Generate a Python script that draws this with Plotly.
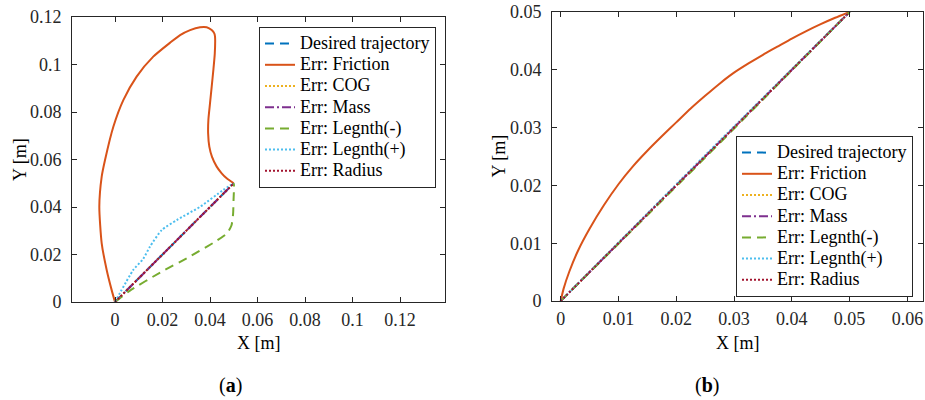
import plotly.graph_objects as go

# ---------------- data: panel (a) ----------------
a_desired_x = [0.0, 0.05]
a_desired_y = [0.0, 0.05]
a_friction_x = [0.0, -0.0014, -0.0035, -0.0056, -0.0066, -0.0056, -0.0042, -0.0007, 0.0035, 0.0091,
                0.0161, 0.0232, 0.0274, 0.0316, 0.0358, 0.0386, 0.0407, 0.0418, 0.0421, 0.0420,
                0.0414, 0.0407, 0.0400, 0.0393, 0.0392, 0.0397, 0.0408, 0.0428, 0.0449, 0.0470,
                0.0500]
a_friction_y = [0.0, 0.0050, 0.0135, 0.0247, 0.0401, 0.0528, 0.0598, 0.0738, 0.0850, 0.0949,
                0.1033, 0.1092, 0.1124, 0.1145, 0.1157, 0.1157, 0.1145, 0.1131, 0.1117, 0.1047,
                0.0977, 0.0907, 0.0837, 0.0766, 0.0710, 0.0654, 0.0612, 0.0570, 0.0542, 0.0521,
                0.0500]
a_cog_x = [0.0, 0.05]
a_cog_y = [0.0, 0.05]
a_mass_x = [0.0, 0.05]
a_mass_y = [0.0, 0.05]
a_lminus_x = [0.0, 0.0063, 0.0190, 0.0316, 0.0428, 0.0472, 0.0490, 0.0497, 0.0499, 0.0501, 0.0500]
a_lminus_y = [0.0, 0.0048, 0.0124, 0.0192, 0.0258, 0.0290, 0.0322, 0.0370, 0.0430, 0.0485, 0.0500]
a_lplus_x = [0.0, 0.0077, 0.0119, 0.0147, 0.0197, 0.0260, 0.0358, 0.0456, 0.0500]
a_lplus_y = [0.0, 0.0135, 0.0182, 0.0233, 0.0303, 0.0345, 0.0401, 0.0472, 0.0500]
a_radius_x = [0.0, 0.05]
a_radius_y = [0.0, 0.05]

# ---------------- data: panel (b) ----------------
b_desired_x = [0.0, 0.05]
b_desired_y = [0.0, 0.05]
b_friction_x = [0.0, 0.0005, 0.0015, 0.0030, 0.0050, 0.0075, 0.0100, 0.0125, 0.0150, 0.0175,
                0.0200, 0.0225, 0.0250, 0.0275, 0.0300, 0.0325, 0.0350, 0.0375, 0.0400, 0.0425,
                0.0450, 0.0475, 0.0500]
b_friction_y = [0.0, 0.0021, 0.0051, 0.0087, 0.0125, 0.0166, 0.0202, 0.0233, 0.0260, 0.0285,
                0.0309, 0.0333, 0.0355, 0.0376, 0.0395, 0.0411, 0.0426, 0.0440, 0.0454, 0.0467,
                0.0479, 0.0490, 0.0500]
b_cog_x = [0.0, 0.05]
b_cog_y = [0.0, 0.05]
b_mass_x = [0.0, 0.05]
b_mass_y = [0.0, 0.05]
b_lminus_x = [0.0, 0.025, 0.05]
b_lminus_y = [0.0, 0.0248, 0.05]
b_lplus_x = [0.0, 0.025, 0.05]
b_lplus_y = [0.0, 0.0252, 0.05]
b_radius_x = [0.0, 0.05]
b_radius_y = [0.0, 0.05]

names = ["Desired trajectory", "Err: Friction", "Err: COG", "Err: Mass",
         "Err: Legnth(-)", "Err: Legnth(+)", "Err: Radius"]
colors = ["#0072BD", "#D95319", "#EDB120", "#7E2F8E", "#77AC30", "#4DBEEE", "#A2142F"]
dashes = ["9px,6px", "solid", "2px,2px", "9px,3px,2px,3px", "9px,6px", "2px,2px", "2px,2px"]

panel_a = [(a_desired_x, a_desired_y), (a_friction_x, a_friction_y), (a_cog_x, a_cog_y),
           (a_mass_x, a_mass_y), (a_lminus_x, a_lminus_y), (a_lplus_x, a_lplus_y),
           (a_radius_x, a_radius_y)]
panel_b = [(b_desired_x, b_desired_y), (b_friction_x, b_friction_y), (b_cog_x, b_cog_y),
           (b_mass_x, b_mass_y), (b_lminus_x, b_lminus_y), (b_lplus_x, b_lplus_y),
           (b_radius_x, b_radius_y)]

W, H = 925, 400
FONT = "Liberation Serif, Times New Roman, serif"
AX = "#262626"

def label(n):
    return '<span style="font-size:18px">' + n + '</span>'

fig = go.Figure()
for i, (xs, ys) in enumerate(panel_a):
    fig.add_trace(go.Scatter(x=xs, y=ys, mode="lines", name=label(names[i]),
                             line=dict(color=colors[i], width=2, dash=dashes[i], shape="spline", smoothing=0.6),
                             xaxis="x", yaxis="y", legend="legend"))
for i, (xs, ys) in enumerate(panel_b):
    fig.add_trace(go.Scatter(x=xs, y=ys, mode="lines", name=label(names[i]),
                             line=dict(color=colors[i], width=2, dash=dashes[i], shape="spline", smoothing=0.6),
                             xaxis="x2", yaxis="y2", legend="legend2"))

def px_x(p):
    return p / W

def px_y(p):
    return 1 - p / H

axis_common = dict(showline=True, linecolor=AX, linewidth=1, mirror="ticks",
                   ticks="inside", ticklen=5, tickcolor=AX, tickwidth=1,
                   showgrid=False, zeroline=False, automargin=False,
                   ticklabeloverflow="allow",
                   tickfont=dict(family=FONT, size=18, color=AX))

legend_common = dict(xanchor="left", yanchor="top", bgcolor="white", bordercolor=AX, borderwidth=1,
                     font=dict(family=FONT, size=14, color="black"), itemwidth=30,
                     tracegroupgap=0)

fig.update_layout(
    width=W, height=H,
    margin=dict(l=0, r=0, t=0, b=0, autoexpand=False),
    paper_bgcolor="white", plot_bgcolor="white",
    font=dict(family=FONT, size=18, color=AX),
    xaxis=dict(domain=[px_x(72), px_x(445)], range=[-0.0181, 0.1389], dtick=0.02, tick0=0,
               anchor="y", ticklabelstandoff=1, **axis_common),
    yaxis=dict(domain=[px_y(302), px_y(17)], range=[0, 0.12], dtick=0.02, tick0=0,
               anchor="x", ticklabelstandoff=6, **axis_common),
    xaxis2=dict(domain=[px_x(552), px_x(923)], range=[-0.0015, 0.0627], dtick=0.01, tick0=0,
                anchor="y2", ticklabelstandoff=1, **axis_common),
    yaxis2=dict(domain=[px_y(301), px_y(12)], range=[0, 0.05], dtick=0.01, tick0=0,
                anchor="x2", ticklabelstandoff=6, **axis_common),
    legend=dict(x=px_x(259), y=px_y(27), **legend_common),
    legend2=dict(x=px_x(736), y=px_y(136), **legend_common),
    showlegend=True,
)

annots = [
    dict(text="X [m]", x=px_x(258.5), y=px_y(343), size=18),
    dict(text="X [m]", x=px_x(738), y=px_y(343), size=18),
    dict(text="Y [m]", x=px_x(20), y=px_y(160), textangle=-90, size=18),
    dict(text="Y [m]", x=px_x(498), y=px_y(156.5), textangle=-90, size=18),
    dict(text="(<b>a</b>)", x=px_x(230), y=px_y(385), size=20),
    dict(text="(<b>b</b>)", x=px_x(707), y=px_y(385), size=20),
]
for a in annots:
    sz = a.pop("size")
    fig.add_annotation(xref="paper", yref="paper", xanchor="center", yanchor="middle",
                       showarrow=False, font=dict(family=FONT, size=sz, color="black"), **a)

fig.write_html("out.html", config={"displayModeBar": False},
               post_script="document.body.style.margin='0';")
